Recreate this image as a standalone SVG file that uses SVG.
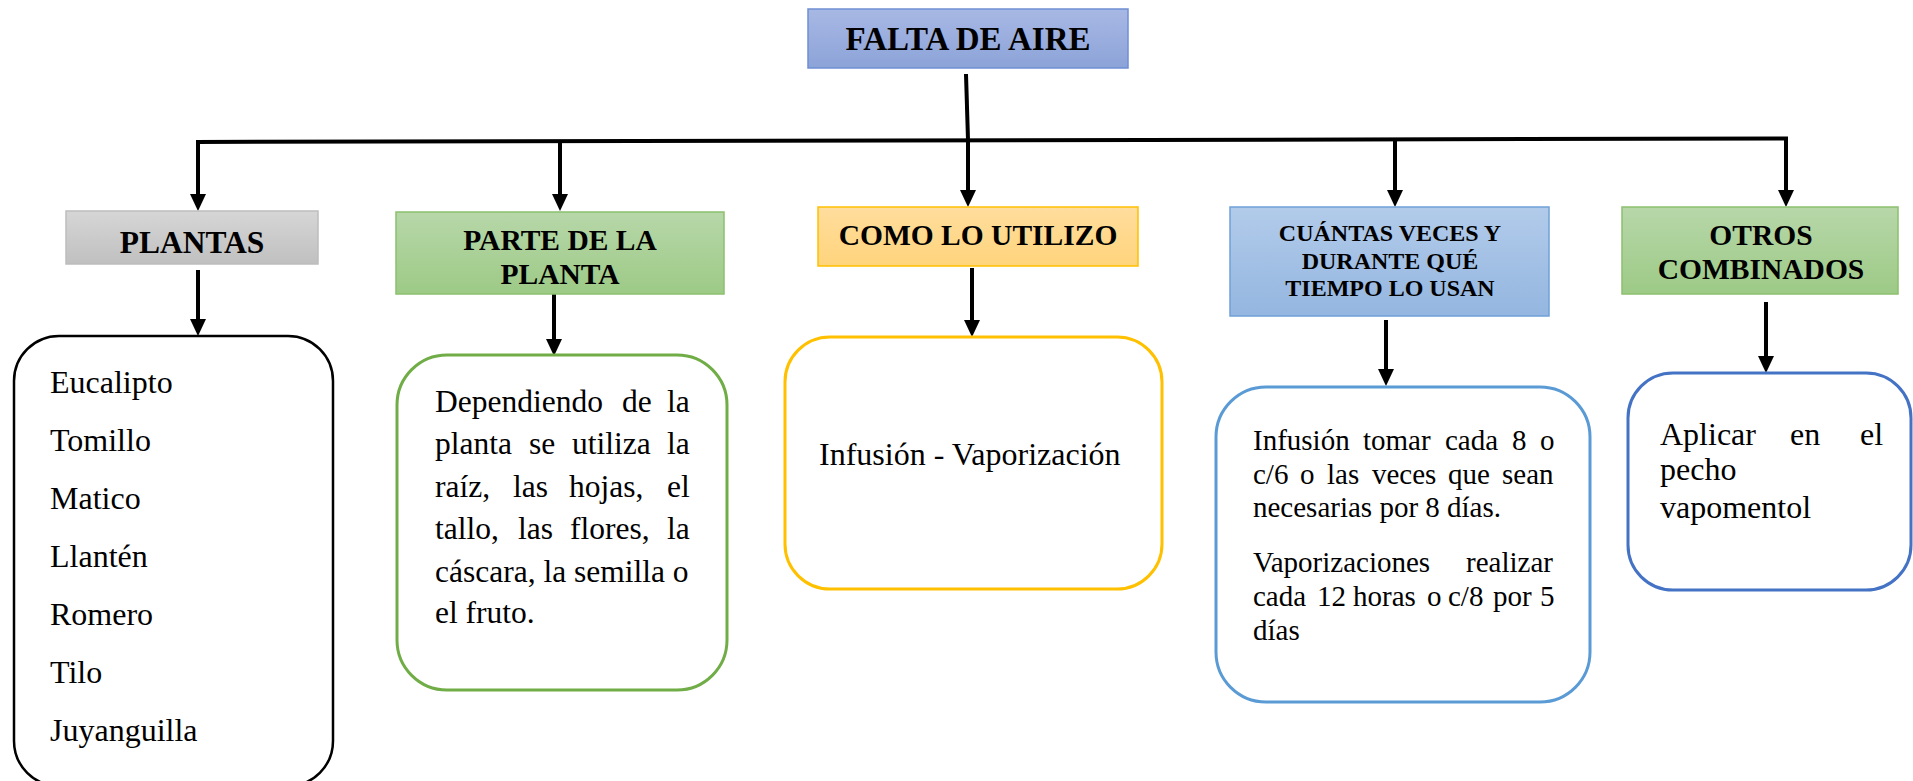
<svg xmlns="http://www.w3.org/2000/svg" width="1913" height="781" viewBox="0 0 1913 781">
<style>
.h{font-family:"Liberation Serif","Times New Roman",serif;font-weight:bold;fill:#000;text-anchor:middle}
.t{font-family:"Liberation Serif","Times New Roman",serif;fill:#000}
.ln{stroke:#000;stroke-width:4;fill:none}
.ar{stroke:#000;stroke-width:4;fill:none;marker-end:url(#ah)}
</style>
<defs>
<marker id="ah" markerUnits="userSpaceOnUse" viewBox="0 0 17 16" markerWidth="17" markerHeight="16" refX="5" refY="8" orient="auto">
<path d="M0,0 L17,8 L0,16 z" fill="#000"/>
</marker>
<linearGradient id="gTitle" x1="0" y1="0" x2="0" y2="1"><stop offset="0" stop-color="#a8b8e4"/><stop offset="1" stop-color="#8ca3d8"/></linearGradient>
<linearGradient id="gGray" x1="0" y1="0" x2="0" y2="1"><stop offset="0" stop-color="#d6d6d6"/><stop offset="1" stop-color="#c0c0c0"/></linearGradient>
<linearGradient id="gGreen" x1="0" y1="0" x2="0" y2="1"><stop offset="0" stop-color="#b7d7a9"/><stop offset="1" stop-color="#9dca86"/></linearGradient>
<linearGradient id="gOrange" x1="0" y1="0" x2="0" y2="1"><stop offset="0" stop-color="#ffdd9d"/><stop offset="1" stop-color="#ffd47c"/></linearGradient>
<linearGradient id="gBlue" x1="0" y1="0" x2="0" y2="1"><stop offset="0" stop-color="#b2cbea"/><stop offset="1" stop-color="#94b6e0"/></linearGradient>
</defs>
<rect width="1913" height="781" fill="#fff"/>

<g id="connectors">
<path class="ln" d="M966,74 L968,140"/>
<path class="ln" d="M196,142 L1788,138.5"/>
<path class="ar" d="M198,142 L198,199"/>
<path class="ar" d="M560,141 L560,199"/>
<path class="ar" d="M968,140 L968,195"/>
<path class="ar" d="M1395,139.5 L1395,195"/>
<path class="ar" d="M1786,138.5 L1786,195"/>
<path class="ar" d="M198,270 L198,324"/>
<path class="ar" d="M554,294 L554,344"/>
<path class="ar" d="M972,268 L972,325"/>
<path class="ar" d="M1386,320 L1386,374"/>
<path class="ar" d="M1766,302 L1766,361"/>
</g>

<g id="title">
<rect x="808" y="9" width="320" height="59" fill="url(#gTitle)" stroke="#6f8fd3" stroke-width="1.5"/>
<text class="h" x="968" y="50" font-size="33">FALTA DE AIRE</text>
</g>

<g id="plantas">
<rect x="66" y="211" width="252" height="53" fill="url(#gGray)" stroke="#bdbdbd" stroke-width="1.5"/>
<text class="h" x="192" y="252.5" font-size="31.5">PLANTAS</text>
</g>

<g id="parte">
<rect x="396" y="212" width="328" height="82" fill="url(#gGreen)" stroke="#8cc06e" stroke-width="1.5"/>
<text class="h" x="560" y="250" font-size="29.5">PARTE DE LA</text>
<text class="h" x="560" y="284" font-size="29.5">PLANTA</text>
</g>

<g id="como">
<rect x="818" y="207" width="320" height="59" fill="url(#gOrange)" stroke="#ffc000" stroke-width="1.5"/>
<text class="h" x="978" y="245" font-size="29.5">COMO LO UTILIZO</text>
</g>

<g id="cuantas">
<rect x="1230" y="207" width="319" height="109" fill="url(#gBlue)" stroke="#6fa1d9" stroke-width="1.5"/>
<text class="h" x="1390" y="240.5" font-size="24">CUÁNTAS VECES Y</text>
<text class="h" x="1390" y="269" font-size="24">DURANTE QUÉ</text>
<text class="h" x="1390" y="296" font-size="24">TIEMPO LO USAN</text>
</g>

<g id="otros">
<rect x="1622" y="207" width="276" height="87" fill="url(#gGreen)" stroke="#8cc06e" stroke-width="1.5"/>
<text class="h" x="1761" y="245" font-size="29.5">OTROS</text>
<text class="h" x="1761" y="279" font-size="29.5">COMBINADOS</text>
</g>

<g id="box-plantas">
<rect x="14" y="336" width="319" height="450" rx="45" ry="45" fill="#fff" stroke="#000" stroke-width="2.5"/>
<text class="t" font-size="32" x="50" y="393">Eucalipto</text>
<text class="t" font-size="32" x="50" y="451">Tomillo</text>
<text class="t" font-size="32" x="50" y="508.5">Matico</text>
<text class="t" font-size="32" x="50" y="566.5">Llantén</text>
<text class="t" font-size="32" x="50" y="625">Romero</text>
<text class="t" font-size="32" x="50" y="683">Tilo</text>
<text class="t" font-size="32" x="50" y="741">Juyanguilla</text>
</g>

<g id="box-parte">
<rect x="397" y="355" width="330" height="335" rx="50" ry="50" fill="#fff" stroke="#70ad47" stroke-width="3"/>
<text class="t" font-size="31.5" y="412"><tspan x="435">Dependiendo</tspan><tspan x="622">de</tspan><tspan x="667">la</tspan></text>
<text class="t" font-size="31.5" y="453.5"><tspan x="435">planta</tspan><tspan x="529">se</tspan><tspan x="572">utiliza</tspan><tspan x="667">la</tspan></text>
<text class="t" font-size="31.5" y="496.5"><tspan x="435">raíz,</tspan><tspan x="513">las</tspan><tspan x="569">hojas,</tspan><tspan x="667">el</tspan></text>
<text class="t" font-size="31.5" y="539"><tspan x="435">tallo,</tspan><tspan x="518">las</tspan><tspan x="570">flores,</tspan><tspan x="667">la</tspan></text>
<text class="t" font-size="31.5" x="435" y="581.5">cáscara, la semilla o</text>
<text class="t" font-size="31.5" x="435" y="623">el fruto.</text>
</g>

<g id="box-como">
<rect x="785" y="337" width="377" height="252" rx="45" ry="45" fill="#fff" stroke="#ffc000" stroke-width="3"/>
<text class="t" font-size="32" x="819" y="465">Infusión - Vaporización</text>
</g>

<g id="box-cuantas">
<rect x="1216" y="387" width="374" height="315" rx="50" ry="50" fill="#fff" stroke="#5b9bd5" stroke-width="3"/>
<text class="t" font-size="29" y="449.5"><tspan x="1253">Infusión</tspan><tspan x="1363">tomar</tspan><tspan x="1445">cada</tspan><tspan x="1512">8</tspan><tspan x="1540">o</tspan></text>
<text class="t" font-size="29" y="483.5"><tspan x="1253">c/6</tspan><tspan x="1300">o</tspan><tspan x="1327">las</tspan><tspan x="1372">veces</tspan><tspan x="1448">que</tspan><tspan x="1502">sean</tspan></text>
<text class="t" font-size="29" x="1253" y="517">necesarias por 8 días.</text>
<text class="t" font-size="29" y="572"><tspan x="1253">Vaporizaciones</tspan><tspan x="1466">realizar</tspan></text>
<text class="t" font-size="29" y="606"><tspan x="1253">cada</tspan><tspan x="1317">12</tspan><tspan x="1353">horas</tspan><tspan x="1427">o</tspan><tspan x="1448">c/8</tspan><tspan x="1493">por</tspan><tspan x="1540">5</tspan></text>
<text class="t" font-size="29" x="1253" y="639.5">días</text>
</g>

<g id="box-otros">
<rect x="1628" y="373" width="283" height="217" rx="45" ry="45" fill="#fff" stroke="#4472c4" stroke-width="3"/>
<text class="t" font-size="32" y="444.5"><tspan x="1660">Aplicar</tspan><tspan x="1790">en</tspan><tspan x="1860">el</tspan></text>
<text class="t" font-size="32" x="1660" y="480">pecho</text>
<text class="t" font-size="32" x="1660" y="518">vapomentol</text>
</g>
</svg>
